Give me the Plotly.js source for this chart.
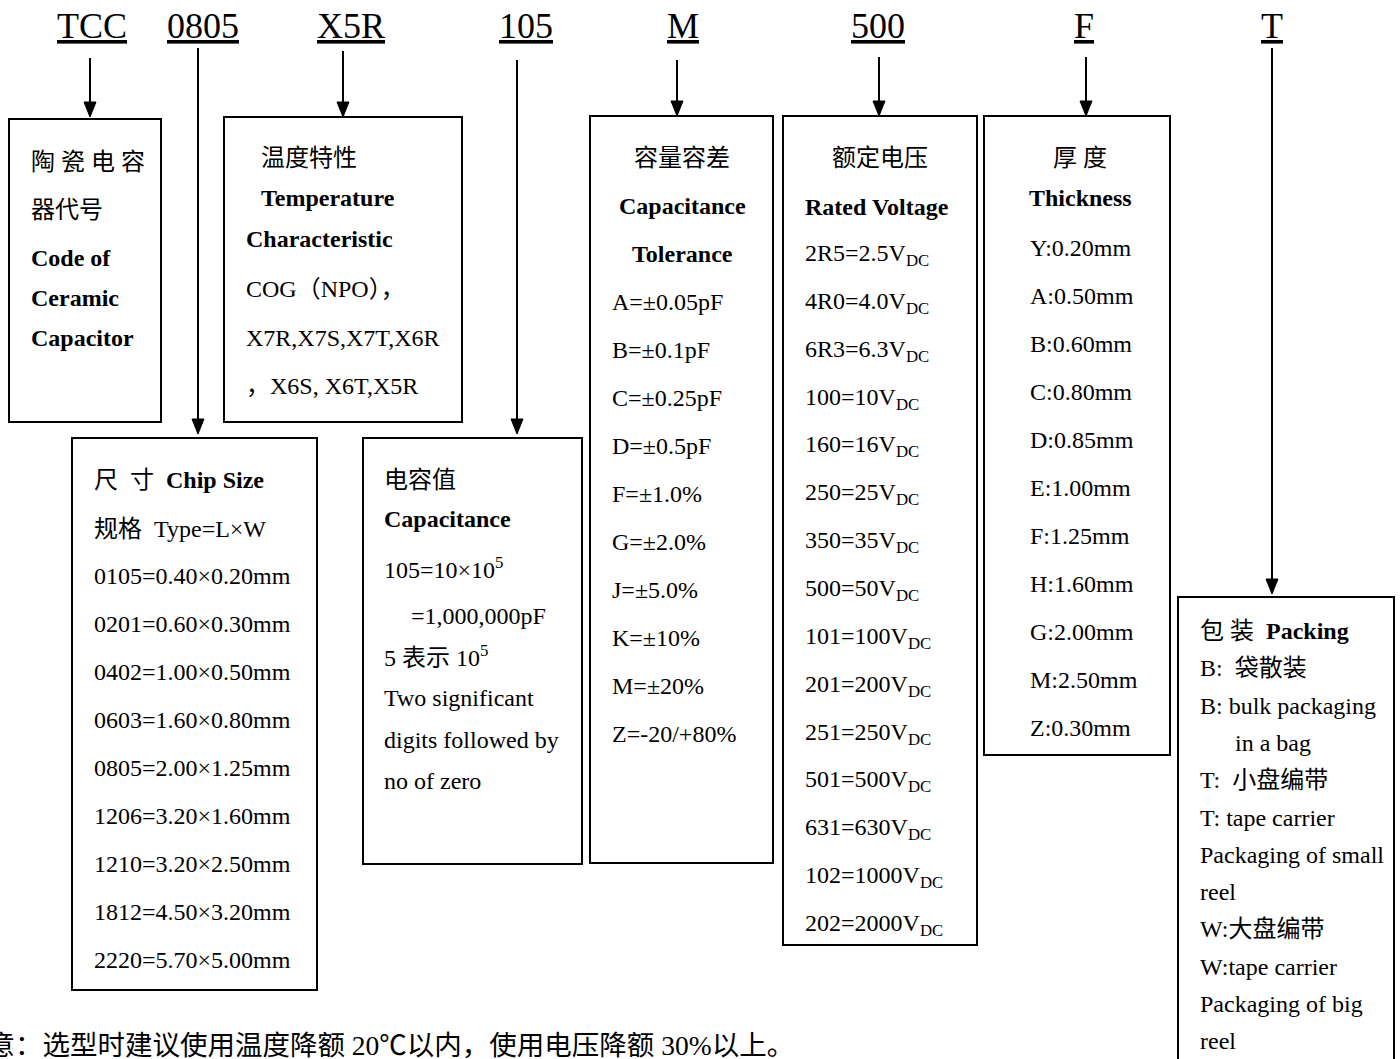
<!DOCTYPE html>
<html>
<head>
<meta charset="utf-8">
<script src="https://cdn.plot.ly/plotly-3.0.1.min.js"></script>
<style>
  html, body { margin: 0; padding: 0; background: #fff; }
  #chart { width: 1400px; height: 1059px; }
</style>
</head>
<body>
<div id="chart"></div>
<script>
// ---------------- data (text content) ----------------
const codeParts = ['TCC', '0805', 'X5R', '105', 'M', '500', 'F', 'T'];

const ceramicLines = ['陶 瓷 电 容', '器代号', '<b>Code of</b>', '<b>Ceramic</b>', '<b>Capacitor</b>'];

const tempLines = ['温度特性', '<b>Temperature</b>', '<b>Characteristic</b>',
  'COG（NPO），', 'X7R,X7S,X7T,X6R', '，X6S, X6T,X5R'];

const sizeTitle = ['尺\u00A0\u00A0寸\u00A0\u00A0<b>Chip Size</b>', '规格\u00A0\u00A0Type=L×W'];
const sizeCodes = ['0105', '0201', '0402', '0603', '0805', '1206', '1210', '1812', '2220'];
const sizeDims = ['0.40×0.20mm', '0.60×0.30mm', '1.00×0.50mm', '1.60×0.80mm', '2.00×1.25mm',
  '3.20×1.60mm', '3.20×2.50mm', '4.50×3.20mm', '5.70×5.00mm'];

const capLines = ['电容值', '<b>Capacitance</b>', '105=10×10<sup>5</sup>', '=1,000,000pF',
  '5 表示 10<sup>5</sup>', 'Two significant', 'digits followed by', 'no of zero'];

const tolTitle = ['容量容差', '<b>Capacitance</b>', '<b>Tolerance</b>'];
const tolCodes = ['A', 'B', 'C', 'D', 'F', 'G', 'J', 'K', 'M', 'Z'];
const tolValues = ['±0.05pF', '±0.1pF', '±0.25pF', '±0.5pF', '±1.0%', '±2.0%', '±5.0%', '±10%', '±20%', '-20/+80%'];

const voltTitle = ['额定电压', '<b>Rated Voltage</b>'];
const voltCodes = ['2R5', '4R0', '6R3', '100', '160', '250', '350', '500', '101', '201', '251', '501', '631', '102', '202'];
const voltValues = ['2.5', '4.0', '6.3', '10', '16', '25', '35', '50', '100', '200', '250', '500', '630', '1000', '2000'];

const thickTitle = ['厚 度', '<b>Thickness</b>'];
const thickCodes = ['Y', 'A', 'B', 'C', 'D', 'E', 'F', 'H', 'G', 'M', 'Z'];
const thickValues = ['0.20', '0.50', '0.60', '0.80', '0.85', '1.00', '1.25', '1.60', '2.00', '2.50', '0.30'];

const packLines = ['包\u00A0装\u00A0\u00A0<b>Packing</b>', 'B:\u00A0\u00A0袋散装', 'B: bulk packaging', 'in a bag',
  'T:\u00A0\u00A0小盘编带', 'T: tape carrier', 'Packaging of small', 'reel',
  'W:大盘编带', 'W:tape carrier', 'Packaging of big', 'reel'];

const noteText = '注意：选型时建议使用温度降额 20℃以内，使用电压降额 30%以上。';

// ---------------- layout geometry ----------------
const FONT = "'Liberation Serif', 'Noto Sans CJK SC', serif";
const BODY = 24;
const codeX = [92, 203, 351, 526, 683, 878, 1084, 1272];
const arrowX = [90, 198, 343, 517, 677, 879, 1086, 1272];
const arrowTop = [58, 48, 51, 60, 60, 57, 57, 48];
const arrowTip = [117, 434, 117, 434, 116, 116, 116, 594];
const boxes = [
  [9, 119, 161, 422], [224, 117, 462, 422], [72, 438, 317, 990], [363, 438, 582, 864],
  [590, 116, 773, 863], [783, 116, 977, 945], [984, 116, 1170, 755], [1178, 597, 1394, 1080]
];

const shapes = [];
const annotations = [];
const LINE = { color: '#000', width: 2 };

boxes.forEach(b => shapes.push({ type: 'rect', xref: 'x', yref: 'y', x0: b[0], y0: b[1], x1: b[2], y1: b[3], line: LINE, fillcolor: 'rgba(0,0,0,0)' }));
arrowX.forEach((x, i) => {
  const tip = arrowTip[i];
  shapes.push({ type: 'line', xref: 'x', yref: 'y', x0: x, y0: arrowTop[i], x1: x, y1: tip - 10, line: LINE });
  shapes.push({ type: 'path', xref: 'x', yref: 'y', path: `M ${x - 6} ${tip - 15} L ${x + 6} ${tip - 15} L ${x} ${tip} Z`, fillcolor: '#000', line: { color: '#000', width: 1 } });
});

function addText(text, x, y, anchor, size) {
  annotations.push({ xref: 'x', yref: 'y', x: x, y: y, text: text, showarrow: false,
    xanchor: anchor || 'left', yanchor: 'middle', borderpad: 0,
    font: { family: FONT, size: size || BODY, color: '#000' } });
}

// header codes
codeParts.forEach((c, i) => addText('<u>' + c + '</u>', codeX[i], 26, 'center', 36));

// box 1
[162, 210, 258, 298, 338].forEach((y, i) => addText(ceramicLines[i], 30, y));
// box 2
const tempX = [260, 260, 245, 245, 245, 245];
[158, 198, 239, 289, 338, 386].forEach((y, i) => addText(tempLines[i], tempX[i], y));
// box 3
addText(sizeTitle[0], 93, 480);
addText(sizeTitle[1], 93, 529);
sizeCodes.forEach((c, i) => addText(c + '=' + sizeDims[i], 93, 576 + 48 * i));
// box 4
const capX = [383, 383, 383, 410, 383, 383, 383, 383];
[480, 519, 568, 616, 656, 698, 740, 781].forEach((y, i) => addText(capLines[i], capX[i], y));
// box 5
[158, 206, 254].forEach((y, i) => addText(tolTitle[i], 682, y, 'center'));
tolCodes.forEach((c, i) => addText(c + '=' + tolValues[i], 611, 302 + 48 * i));
// box 6
addText(voltTitle[0], 880, 158, 'center');
addText(voltTitle[1], 804, 207);
voltCodes.forEach((c, i) => addText(c + '=' + voltValues[i] + 'V<sub>DC</sub>', 804, 255 + 47.86 * i));
// box 7
addText(thickTitle[0], 1080, 158, 'center');
addText(thickTitle[1], 1080, 198, 'center');
thickCodes.forEach((c, i) => addText(c + ':' + thickValues[i] + 'mm', 1029, 248 + 48 * i));
// box 8
packLines.forEach((t, i) => addText(t, i === 3 ? 1234 : 1199, 631 + 37.3 * i));
// footer note (first character falls outside the page on the left)
addText(noteText, 795, 1045, 'right', 27.5);

const layout = {
  width: 1400, height: 1059,
  margin: { l: 0, r: 0, t: 0, b: 0, pad: 0 },
  paper_bgcolor: '#fff', plot_bgcolor: '#fff',
  showlegend: false,
  xaxis: { range: [0, 1400], visible: false, fixedrange: true },
  yaxis: { range: [1059, 0], visible: false, fixedrange: true },
  shapes: shapes,
  annotations: annotations
};

Plotly.newPlot('chart', [], layout, { displayModeBar: false, staticPlot: true });
</script>
</body>
</html>
